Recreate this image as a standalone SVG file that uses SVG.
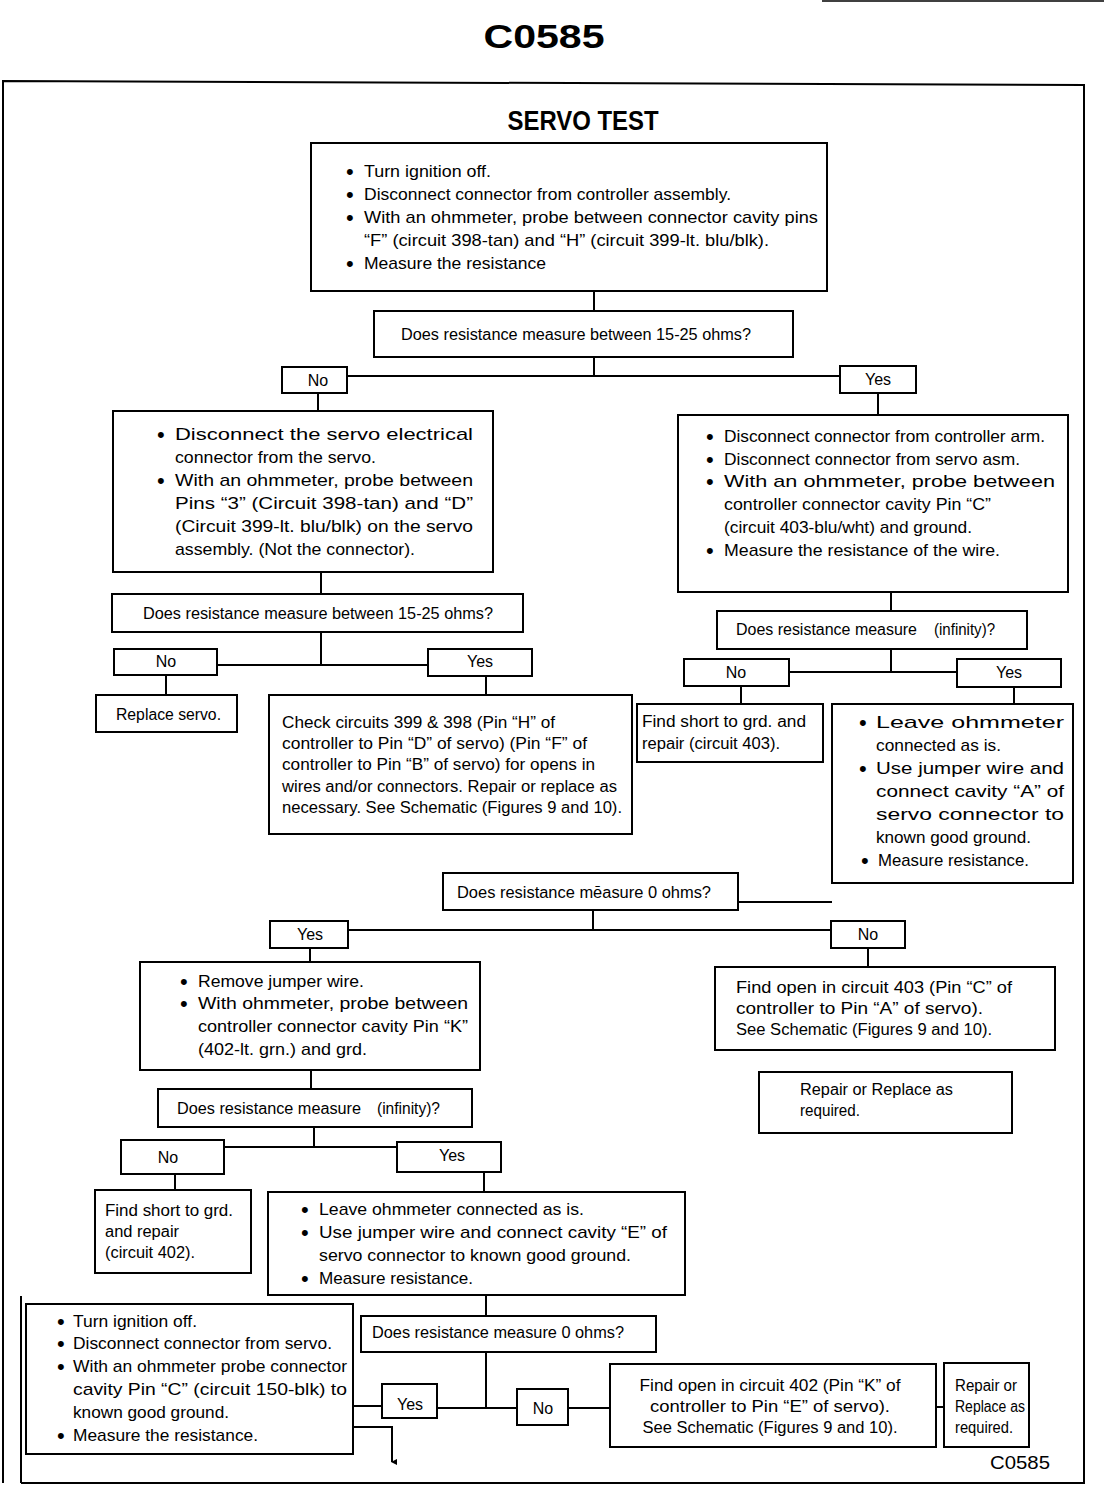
<svg xmlns="http://www.w3.org/2000/svg" width="1104" height="1504" viewBox="0 0 1104 1504">
<style>
text{font-family:"Liberation Sans Narrow","Liberation Sans",Arial,sans-serif;fill:#000;}
.t{font-size:17px;}
.s{font-size:16px;}
.b{font-size:22px;}
.box{fill:#fff;stroke:#000;stroke-width:2;}
.c{fill:none;stroke:#000;stroke-width:2;}
.m{text-anchor:middle;}
</style>
<defs>
<marker id="ah" markerWidth="6" markerHeight="6" refX="3" refY="5" orient="auto" markerUnits="userSpaceOnUse"><path d="M0,0 L3,6 L6,0 Z" fill="#000"/></marker>
</defs>
<rect width="1104" height="1504" fill="#fff"/>
<line x1="822" y1="1" x2="1104" y2="1" stroke="#000" stroke-width="1.5"/>
<text x="544" y="48" class="m" style="font-family:'Liberation Sans',Arial,sans-serif;font-weight:bold;font-size:34px" textLength="121" lengthAdjust="spacingAndGlyphs">C0585</text>
<path d="M3,1483 L3,81 L1084,85 L1084,1483 L21,1483" class="c" stroke-width="3"/>
<line x1="21" y1="1296" x2="21" y2="1483" stroke="#000" stroke-width="2"/>
<text x="583" y="130" class="m" style="font-weight:bold;font-size:27px" textLength="151" lengthAdjust="spacingAndGlyphs">SERVO TEST</text>

<g id="connectors">
<path class="c" d="M594,291 V311"/>
<path class="c" d="M594,357 V376 M347,376 H840"/>
<path class="c" d="M318,393 V411 M878,393 V415"/>
<path class="c" d="M321,572 V594"/>
<path class="c" d="M321,632 V665 M217,665 H428"/>
<path class="c" d="M166,675 V695 M486,676 V695"/>
<path class="c" d="M891,592 V611"/>
<path class="c" d="M891,649 V672 M789,672 H957"/>
<path class="c" d="M741,686 V704 M1014,687 V704"/>
<path class="c" d="M738,902 H832"/>
<path class="c" d="M593,910 V930 M348,930 H831"/>
<path class="c" d="M310,948 V962 M868,948 V967"/>
<path class="c" d="M311,1070 V1089"/>
<path class="c" d="M314,1127 V1147 M224,1147 H397"/>
<path class="c" d="M175,1174 V1190 M484,1172 V1192"/>
<path class="c" d="M486,1295 V1316"/>
<path class="c" d="M486,1352 V1408 M437,1408 H517"/>
<path class="c" d="M353,1406 H382"/>
<path class="c" d="M568,1408 H610"/>
<path class="c" d="M936,1407 H944"/>
<path class="c" d="M353,1427 H392 V1462" marker-end="url(#ah)"/>
</g>

<g id="n-start">
<rect class="box" x="311" y="143" width="516" height="148"/>
<text class="b" x="346" y="179">•</text><text class="t" x="364" y="177" textLength="127" lengthAdjust="spacingAndGlyphs">Turn ignition off.</text>
<text class="b" x="346" y="202">•</text><text class="t" x="364" y="200" textLength="367" lengthAdjust="spacingAndGlyphs">Disconnect connector from controller assembly.</text>
<text class="b" x="346" y="225">•</text><text class="t" x="364" y="223" textLength="454" lengthAdjust="spacingAndGlyphs">With an ohmmeter, probe between connector cavity pins</text>
<text class="t" x="364" y="246" textLength="405" lengthAdjust="spacingAndGlyphs">“F” (circuit 398-tan) and “H” (circuit 399-lt. blu/blk).</text>
<text class="b" x="346" y="271">•</text><text class="t" x="364" y="269" textLength="182" lengthAdjust="spacingAndGlyphs">Measure the resistance</text>
</g>

<g id="q1">
<rect class="box" x="374" y="311" width="419" height="46"/>
<text class="s" x="401" y="340" textLength="350" lengthAdjust="spacingAndGlyphs">Does resistance measure between 15-25 ohms?</text>
</g>
<g id="q1-no"><rect class="box" x="282" y="367" width="65" height="26"/><text class="s m" x="318" y="386">No</text></g>
<g id="q1-yes"><rect class="box" x="840" y="366" width="76" height="27"/><text class="s m" x="878" y="385">Yes</text></g>

<g id="n-servo">
<rect class="box" x="113" y="411" width="380" height="161"/>
<text class="b" x="157" y="442">•</text><text class="t" x="175" y="440" textLength="298" lengthAdjust="spacingAndGlyphs">Disconnect the servo electrical</text>
<text class="t" x="175" y="463" textLength="201" lengthAdjust="spacingAndGlyphs">connector from the servo.</text>
<text class="b" x="157" y="488">•</text><text class="t" x="175" y="486" textLength="298" lengthAdjust="spacingAndGlyphs">With an ohmmeter, probe between</text>
<text class="t" x="175" y="509" textLength="298" lengthAdjust="spacingAndGlyphs">Pins “3” (Circuit 398-tan) and “D”</text>
<text class="t" x="175" y="532" textLength="298" lengthAdjust="spacingAndGlyphs">(Circuit 399-lt. blu/blk) on the servo</text>
<text class="t" x="175" y="555" textLength="240" lengthAdjust="spacingAndGlyphs">assembly. (Not the connector).</text>
</g>

<g id="q2">
<rect class="box" x="112" y="594" width="411" height="38"/>
<text class="s" x="143" y="619" textLength="350" lengthAdjust="spacingAndGlyphs">Does resistance measure between 15-25 ohms?</text>
</g>
<g id="q2-no"><rect class="box" x="114" y="649" width="103" height="26"/><text class="s m" x="166" y="667">No</text></g>
<g id="q2-yes"><rect class="box" x="428" y="649" width="104" height="27"/><text class="s m" x="480" y="667">Yes</text></g>

<g id="n-replace-servo">
<rect class="box" x="96" y="695" width="141" height="37"/>
<text class="s" x="116" y="720" textLength="105" lengthAdjust="spacingAndGlyphs">Replace servo.</text>
</g>

<g id="n-check-circuits">
<rect class="box" x="269" y="695" width="363" height="139"/>
<text class="s" x="282" y="728" textLength="273" lengthAdjust="spacingAndGlyphs">Check circuits 399 &amp; 398 (Pin “H” of</text>
<text class="s" x="282" y="749" textLength="305" lengthAdjust="spacingAndGlyphs">controller to Pin “D” of servo) (Pin “F” of</text>
<text class="s" x="282" y="770" textLength="313" lengthAdjust="spacingAndGlyphs">controller to Pin “B” of servo) for opens in</text>
<text class="s" x="282" y="792" textLength="335" lengthAdjust="spacingAndGlyphs">wires and/or connectors. Repair or replace as</text>
<text class="s" x="282" y="813" textLength="340" lengthAdjust="spacingAndGlyphs">necessary. See Schematic (Figures 9 and 10).</text>
</g>

<g id="n-controller-arm">
<rect class="box" x="678" y="415" width="390" height="177"/>
<text class="b" x="706" y="444">•</text><text class="t" x="724" y="442" textLength="321" lengthAdjust="spacingAndGlyphs">Disconnect connector from controller arm.</text>
<text class="b" x="706" y="467">•</text><text class="t" x="724" y="465" textLength="296" lengthAdjust="spacingAndGlyphs">Disconnect connector from servo asm.</text>
<text class="b" x="706" y="489">•</text><text class="t" x="724" y="487" textLength="331" lengthAdjust="spacingAndGlyphs">With an ohmmeter, probe between</text>
<text class="t" x="724" y="510" textLength="267" lengthAdjust="spacingAndGlyphs">controller connector cavity Pin “C”</text>
<text class="t" x="724" y="533" textLength="248" lengthAdjust="spacingAndGlyphs">(circuit 403-blu/wht) and ground.</text>
<text class="b" x="706" y="558">•</text><text class="t" x="724" y="556" textLength="276" lengthAdjust="spacingAndGlyphs">Measure the resistance of the wire.</text>
</g>

<g id="q3">
<rect class="box" x="717" y="611" width="310" height="38"/>
<text class="s" x="736" y="635" textLength="181" lengthAdjust="spacingAndGlyphs">Does resistance measure</text>
<text class="s" x="934" y="635" textLength="61" lengthAdjust="spacingAndGlyphs">(infinity)?</text>
</g>
<g id="q3-no"><rect class="box" x="684" y="659" width="105" height="27"/><text class="s m" x="736" y="678">No</text></g>
<g id="q3-yes"><rect class="box" x="957" y="659" width="104" height="28"/><text class="s m" x="1009" y="678">Yes</text></g>

<g id="n-short-403">
<rect class="box" x="637" y="704" width="186" height="58"/>
<text class="s" x="642" y="727" textLength="164" lengthAdjust="spacingAndGlyphs">Find short to grd. and</text>
<text class="s" x="642" y="749" textLength="138" lengthAdjust="spacingAndGlyphs">repair (circuit 403).</text>
</g>

<g id="n-jumper-a">
<rect class="box" x="832" y="704" width="241" height="179"/>
<text class="b" x="859" y="730">•</text><text class="t" x="876" y="728" textLength="188" lengthAdjust="spacingAndGlyphs">Leave ohmmeter</text>
<text class="t" x="876" y="751" textLength="125" lengthAdjust="spacingAndGlyphs">connected as is.</text>
<text class="b" x="859" y="776">•</text><text class="t" x="876" y="774" textLength="188" lengthAdjust="spacingAndGlyphs">Use jumper wire and</text>
<text class="t" x="876" y="797" textLength="188" lengthAdjust="spacingAndGlyphs">connect cavity “A” of</text>
<text class="t" x="876" y="820" textLength="188" lengthAdjust="spacingAndGlyphs">servo connector to</text>
<text class="t" x="876" y="843" textLength="155" lengthAdjust="spacingAndGlyphs">known good ground.</text>
<text class="b" x="861" y="868">•</text><text class="t" x="878" y="866" textLength="151" lengthAdjust="spacingAndGlyphs">Measure resistance.</text>
</g>

<g id="q4">
<rect class="box" x="443" y="873" width="295" height="37"/>
<text class="s" x="457" y="898" textLength="254" lengthAdjust="spacingAndGlyphs">Does resistance mēasure 0 ohms?</text>
</g>
<g id="q4-yes"><rect class="box" x="270" y="921" width="78" height="27"/><text class="s m" x="310" y="940">Yes</text></g>
<g id="q4-no"><rect class="box" x="831" y="921" width="74" height="27"/><text class="s m" x="868" y="940">No</text></g>

<g id="n-remove-jumper">
<rect class="box" x="140" y="962" width="340" height="108"/>
<text class="b" x="180" y="989">•</text><text class="t" x="198" y="987" textLength="166" lengthAdjust="spacingAndGlyphs">Remove jumper wire.</text>
<text class="b" x="180" y="1011">•</text><text class="t" x="198" y="1009" textLength="270" lengthAdjust="spacingAndGlyphs">With ohmmeter, probe between</text>
<text class="t" x="198" y="1032" textLength="270" lengthAdjust="spacingAndGlyphs">controller connector cavity Pin “K”</text>
<text class="t" x="198" y="1055" textLength="169" lengthAdjust="spacingAndGlyphs">(402-lt. grn.) and grd.</text>
</g>

<g id="n-open-403">
<rect class="box" x="715" y="967" width="340" height="83"/>
<text class="s" x="736" y="993" textLength="276" lengthAdjust="spacingAndGlyphs">Find open  in  circuit 403 (Pin “C” of</text>
<text class="s" x="736" y="1014" textLength="247" lengthAdjust="spacingAndGlyphs">controller to Pin “A” of servo).</text>
<text class="s" x="736" y="1035" textLength="256" lengthAdjust="spacingAndGlyphs">See Schematic (Figures 9 and 10).</text>
</g>

<g id="n-repair-1">
<rect class="box" x="759" y="1072" width="253" height="61"/>
<text class="s" x="800" y="1095" textLength="153" lengthAdjust="spacingAndGlyphs">Repair or Replace as</text>
<text class="s" x="800" y="1116" textLength="60" lengthAdjust="spacingAndGlyphs">required.</text>
</g>

<g id="q5">
<rect class="box" x="158" y="1089" width="314" height="38"/>
<text class="s" x="177" y="1114" textLength="184" lengthAdjust="spacingAndGlyphs">Does resistance measure</text>
<text class="s" x="377" y="1114" textLength="63" lengthAdjust="spacingAndGlyphs">(infinity)?</text>
</g>
<g id="q5-no"><rect class="box" x="121" y="1140" width="103" height="34"/><text class="s m" x="168" y="1163">No</text></g>
<g id="q5-yes"><rect class="box" x="397" y="1142" width="104" height="30"/><text class="s m" x="452" y="1161">Yes</text></g>

<g id="n-short-402">
<rect class="box" x="95" y="1190" width="156" height="83"/>
<text class="s" x="105" y="1216" textLength="128" lengthAdjust="spacingAndGlyphs">Find short to grd.</text>
<text class="s" x="105" y="1237" textLength="74" lengthAdjust="spacingAndGlyphs">and repair</text>
<text class="s" x="105" y="1258" textLength="90" lengthAdjust="spacingAndGlyphs">(circuit 402).</text>
</g>

<g id="n-jumper-e">
<rect class="box" x="268" y="1192" width="417" height="103"/>
<text class="b" x="301" y="1217">•</text><text class="t" x="319" y="1215" textLength="265" lengthAdjust="spacingAndGlyphs">Leave ohmmeter connected as is.</text>
<text class="b" x="301" y="1240">•</text><text class="t" x="319" y="1238" textLength="348" lengthAdjust="spacingAndGlyphs">Use jumper wire and connect cavity “E” of</text>
<text class="t" x="319" y="1261" textLength="312" lengthAdjust="spacingAndGlyphs">servo connector to known good ground.</text>
<text class="b" x="301" y="1286">•</text><text class="t" x="319" y="1284" textLength="154" lengthAdjust="spacingAndGlyphs">Measure resistance.</text>
</g>

<g id="q6">
<rect class="box" x="361" y="1316" width="295" height="36"/>
<text class="s" x="372" y="1338" textLength="252" lengthAdjust="spacingAndGlyphs">Does resistance measure 0 ohms?</text>
</g>
<g id="q6-yes"><rect class="box" x="382" y="1384" width="55" height="34"/><text class="s m" x="410" y="1410">Yes</text></g>
<g id="q6-no"><rect class="box" x="517" y="1389" width="51" height="36"/><text class="s m" x="543" y="1414">No</text></g>

<g id="n-ground-150">
<rect class="box" x="26" y="1304" width="327" height="150"/>
<text class="b" x="57" y="1329">•</text><text class="t" x="73" y="1327" textLength="124" lengthAdjust="spacingAndGlyphs">Turn ignition off.</text>
<text class="b" x="57" y="1351">•</text><text class="t" x="73" y="1349" textLength="259" lengthAdjust="spacingAndGlyphs">Disconnect connector from servo.</text>
<text class="b" x="57" y="1374">•</text><text class="t" x="73" y="1372" textLength="274" lengthAdjust="spacingAndGlyphs">With an ohmmeter probe connector</text>
<text class="t" x="73" y="1395" textLength="274" lengthAdjust="spacingAndGlyphs">cavity Pin “C” (circuit 150-blk) to</text>
<text class="t" x="73" y="1418" textLength="156" lengthAdjust="spacingAndGlyphs">known good ground.</text>
<text class="b" x="57" y="1443">•</text><text class="t" x="73" y="1441" textLength="185" lengthAdjust="spacingAndGlyphs">Measure the resistance.</text>
</g>

<g id="n-open-402">
<rect class="box" x="610" y="1364" width="326" height="83"/>
<text class="s m" x="770" y="1391" textLength="261" lengthAdjust="spacingAndGlyphs">Find open in circuit 402 (Pin “K” of</text>
<text class="s m" x="770" y="1412" textLength="240" lengthAdjust="spacingAndGlyphs">controller  to  Pin “E” of servo).</text>
<text class="s m" x="770" y="1433" textLength="255" lengthAdjust="spacingAndGlyphs">See Schematic (Figures 9 and 10).</text>
</g>

<g id="n-repair-2">
<rect class="box" x="944" y="1363" width="85" height="84"/>
<text class="s" x="955" y="1391" textLength="62" lengthAdjust="spacingAndGlyphs">Repair or</text>
<text class="s" x="955" y="1412" textLength="70" lengthAdjust="spacingAndGlyphs">Replace as</text>
<text class="s" x="955" y="1433" textLength="58" lengthAdjust="spacingAndGlyphs">required.</text>
</g>

<text x="990" y="1469" style="font-family:'Liberation Sans',Arial,sans-serif;font-size:19px" textLength="60" lengthAdjust="spacingAndGlyphs">C0585</text>
</svg>
